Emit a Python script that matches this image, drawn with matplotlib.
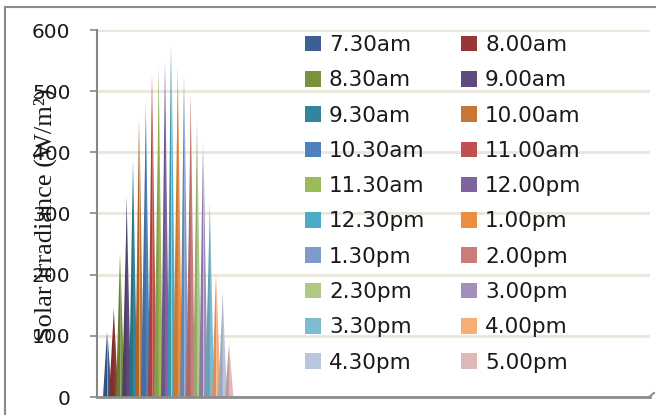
import numpy as np
import matplotlib.pyplot as plt
from matplotlib.lines import Line2D
from matplotlib.patches import Patch
from matplotlib.colors import to_rgb

# half-hourly readings, one pyramid per time slot
times = ['7.30am', '8.00am', '8.30am', '9.00am', '9.30am', '10.00am',
         '10.30am', '11.00am', '11.30am', '12.00pm', '12.30pm', '1.00pm',
         '1.30pm', '2.00pm', '2.30pm', '3.00pm', '3.30pm', '4.00pm',
         '4.30pm', '5.00pm']
irradiance = [107, 145, 235, 328, 388, 456, 478, 530, 540, 549,
              579, 540, 526, 496, 451, 415, 317, 202, 172, 87]
colours = ['#3B6091', '#953735', '#77933C', '#604A7B', '#31859C', '#C77634',
           '#4F81BD', '#C0504D', '#9BBB59', '#8064A2', '#4BACC6', '#EB8F3E',
           '#7E9BCB', '#CD7B79', '#AFC882', '#A28EBD', '#7BBCD3', '#F9AC74',
           '#B8C6E0', '#DFB9B8']

W, H = 656, 415
fig = plt.figure(figsize=(W / 100, H / 100), dpi=100)
ax = fig.add_axes([97 / W, 1 - 397 / H, (650 - 97) / W, (397 - 30) / H])

n = len(times)
step = 0.0463
base = 0.064
centres = 0.015 + (np.arange(n) - (n - 1) / 2) * step


def shade(c, k):
    r, g, b = to_rgb(c)
    return (r * k, g * k, b * k)


for xc, v, c in zip(centres, irradiance, colours):
    # two faces of the pyramid, left one a bit darker
    ax.fill([xc - base / 2, xc, xc], [0, 0, v], color=shade(c, 0.85), lw=0)
    ax.fill([xc, xc + base / 2, xc], [0, 0, v], color=c, lw=0)

ax.set_xlim(-0.5, 3.5)
ax.set_ylim(0, 600)
ax.set_xticks([])
ax.set_yticks(range(0, 601, 100))
ax.tick_params(axis='y', length=5, width=1.2, color='#868686', pad=14,
               labelsize=14.5, labelcolor='#1a1a1a')
ax.yaxis.grid(True, color='#E9E6D9', lw=2)
ax.set_axisbelow(True)
for s in ['top', 'right']:
    ax.spines[s].set_visible(False)
ax.spines['left'].set_color('#868686')
ax.spines['left'].set_linewidth(1.5)
ax.spines['bottom'].set_color('#8C8C8C')
ax.spines['bottom'].set_linewidth(2)

fig.text(45 / W, 1 - 215 / H, 'Solar irradiance (W/m²)', rotation=90,
         family='Liberation Serif', size=19, ha='center', va='center',
         color='#1a1a1a')

# legend rows read left to right, so feed columns separately
order = list(range(0, n, 2)) + list(range(1, n, 2))
handles = [Patch(facecolor=colours[i], edgecolor='none') for i in order]
labels = [times[i] for i in order]
ax.legend(handles, labels, ncol=2, loc='upper left',
          bbox_to_anchor=(305 / W, 1 - 35 / H), bbox_transform=fig.transFigure,
          frameon=False, fontsize=15.5, handlelength=0.74, handleheight=0.74,
          handletextpad=0.37, columnspacing=1.67, labelspacing=0.71,
          borderpad=0, borderaxespad=0, labelcolor='#1a1a1a')

# chart frame and floor edge
fig.add_artist(Line2D([5 / W, 5 / W], [0, 1 - 7 / H], transform=fig.transFigure,
                      color='#8a8a8a', lw=1.5))
fig.add_artist(Line2D([5 / W, 1], [1 - 7 / H, 1 - 7 / H], transform=fig.transFigure,
                      color='#8a8a8a', lw=1.5))
fig.add_artist(Line2D([649 / W, 654 / W], [1 - 397 / H, 1 - 393 / H],
                      transform=fig.transFigure, color='#8C8C8C', lw=1.5))

fig.savefig('out.png', dpi=100)
